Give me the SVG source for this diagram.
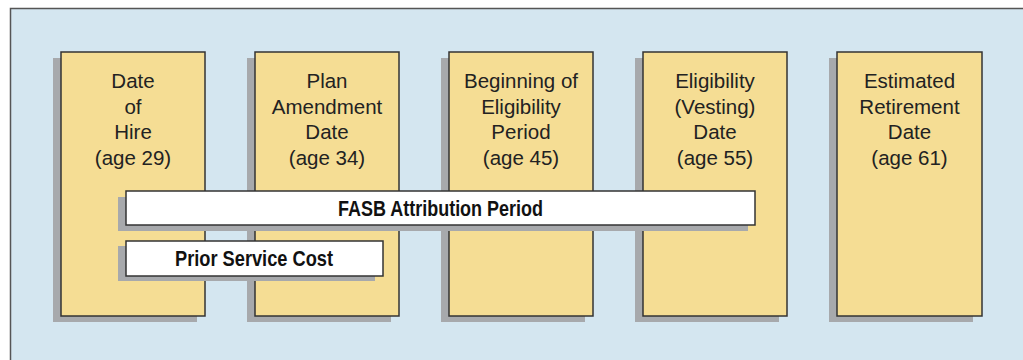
<svg xmlns="http://www.w3.org/2000/svg" width="1023" height="360" viewBox="0 0 1023 360">
<style>
.bg{fill:#d4e6f0;stroke:#555;stroke-width:1.5}
.sh{fill:#a7a9ac}
.box{fill:#f5dd94;stroke:#333;stroke-width:1.5}
.bar{fill:#fff;stroke:#333;stroke-width:1.5}
.t{font-family:"Liberation Sans",Arial,sans-serif;font-size:20.5px;fill:#222;text-anchor:middle}
.b{font-family:"Liberation Sans",Arial,sans-serif;font-size:21.5px;font-weight:bold;fill:#111;text-anchor:middle}
</style>
<rect width="1023" height="360" fill="#fff"/>
<rect class="bg" x="10.5" y="8.5" width="1030" height="370"/>
<g id="node-hire">
<rect class="sh" x="53" y="58" width="144" height="264"/>
<rect class="box" x="61" y="52" width="144" height="264"/>
<text class="t"><tspan x="133" y="88">Date</tspan><tspan x="133" y="113.5">of</tspan><tspan x="133" y="139">Hire</tspan><tspan x="133" y="165">(age 29)</tspan></text>
</g>
<g id="node-amend">
<rect class="sh" x="247" y="58" width="144" height="264"/>
<rect class="box" x="255" y="52" width="144" height="264"/>
<text class="t"><tspan x="327" y="88">Plan</tspan><tspan x="327" y="113.5">Amendment</tspan><tspan x="327" y="139">Date</tspan><tspan x="327" y="165">(age 34)</tspan></text>
</g>
<g id="node-begin">
<rect class="sh" x="441" y="58" width="144" height="264"/>
<rect class="box" x="449" y="52" width="144" height="264"/>
<text class="t"><tspan x="521" y="88">Beginning of</tspan><tspan x="521" y="113.5">Eligibility</tspan><tspan x="521" y="139">Period</tspan><tspan x="521" y="165">(age 45)</tspan></text>
</g>
<g id="node-vesting">
<rect class="sh" x="635" y="58" width="144" height="264"/>
<rect class="box" x="643" y="52" width="144" height="264"/>
<text class="t"><tspan x="715" y="88">Eligibility</tspan><tspan x="715" y="113.5">(Vesting)</tspan><tspan x="715" y="139">Date</tspan><tspan x="715" y="165">(age 55)</tspan></text>
</g>
<g id="node-retire">
<rect class="sh" x="829" y="58" width="144" height="264"/>
<rect class="box" x="837" y="52" width="145" height="264"/>
<text class="t"><tspan x="909.5" y="88">Estimated</tspan><tspan x="909.5" y="113.5">Retirement</tspan><tspan x="909.5" y="139">Date</tspan><tspan x="909.5" y="165">(age 61)</tspan></text>
</g>
<g id="connectors">
<g id="bar-fasb">
<rect class="sh" x="118" y="197" width="630" height="34"/>
<rect class="bar" x="126" y="191" width="629" height="34"/>
<text class="b" x="440.5" y="215.5" textLength="205" lengthAdjust="spacingAndGlyphs">FASB Attribution Period</text>
</g>
<g id="bar-psc">
<rect class="sh" x="118" y="246" width="257" height="35"/>
<rect class="bar" x="126" y="241" width="257" height="35"/>
<text class="b" x="254" y="265.5" textLength="158" lengthAdjust="spacingAndGlyphs">Prior Service Cost</text>
</g>
</g>
</svg>
